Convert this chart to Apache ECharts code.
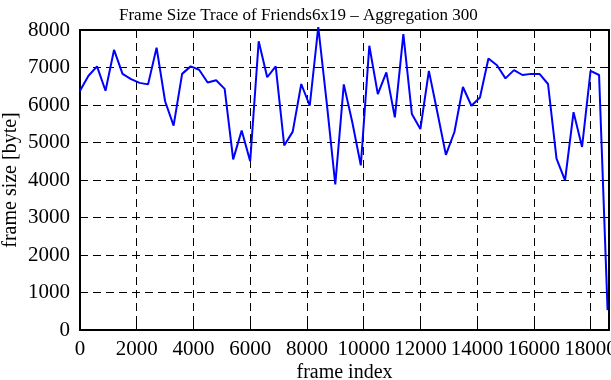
<!DOCTYPE html>
<html>
<head>
<meta charset="utf-8">
<script src="https://cdn.jsdelivr.net/npm/echarts@6/dist/echarts.min.js"></script>
<style>
    html, body { margin: 0; padding: 0; background: #fff; }
    #main { width: 611px; height: 380px; }
</style>
</head>
<body>
<div id="main"></div>
<script>
// frame index (aggregation of 300 frames)
var frameIdx = [0, 300, 600, 900, 1200, 1500, 1800, 2100, 2400, 2700,
    3000, 3300, 3600, 3900, 4200, 4500, 4800, 5100, 5400, 5700,
    6000, 6300, 6600, 6900, 7200, 7500, 7800, 8100, 8400, 8700,
    9000, 9300, 9600, 9900, 10200, 10500, 10800, 11100, 11400, 11700,
    12000, 12300, 12600, 12900, 13200, 13500, 13800, 14100, 14400, 14700,
    15000, 15300, 15600, 15900, 16200, 16500, 16800, 17100, 17400, 17700,
    18000, 18300, 18600];
// frame size in byte
var frameSize = [6380, 6780, 7030, 6380, 7470, 6830, 6690, 6590, 6550, 7530,
    6100, 5450, 6830, 7030, 6940, 6600, 6660, 6430, 4550, 5320,
    4500, 7700, 6740, 7030, 4920, 5290, 6560, 5980, 8080, 6050,
    3880, 6550, 5540, 4390, 7580, 6290, 6870, 5670, 7890, 5760,
    5360, 6910, 5800, 4670, 5280, 6480, 5980, 6200, 7240, 7060,
    6710, 6930, 6800, 6830, 6830, 6560, 4570, 3990, 5810, 4880,
    6910, 6800, 530];

var xTicks = { min: 0, max: 18650, interval: 2000 };
var yTicks = { min: 0, max: 8000, interval: 1000 };

var font = 'Liberation Serif';

var pts = [];
for (var i = 0; i < frameIdx.length; i++) {
    pts.push([frameIdx[i], frameSize[i]]);
}

function plain(v) { return String(v); }

var myChart = echarts.init(document.getElementById('main'));

var dashed = { show: true, lineStyle: { color: '#000', type: [8, 5], width: 1 } };

var option = {
    animation: false,
    backgroundColor: '#fff',
    title: {
        text: 'Frame Size Trace of Friends6x19 \u2013 Aggregation 300',
        left: 114,
        top: 2,
        textStyle: { fontFamily: font, fontSize: 17, fontWeight: 'normal', color: '#000' }
    },
    grid: { left: 80, right: 2, top: 30, bottom: 50, show: false, containLabel: false, outerBoundsMode: 'none' },
    xAxis: [{
        type: 'value',
        min: xTicks.min, max: xTicks.max, interval: xTicks.interval,
        name: 'frame index',
        nameLocation: 'middle',
        nameGap: 33,
        nameMoveOverlap: false,
        nameTextStyle: { fontFamily: font, fontSize: 20, color: '#000' },
        axisLine: { show: true, onZero: false, lineStyle: { color: '#000', width: 2 } },
        axisTick: { show: true, inside: true, length: 6, lineStyle: { color: '#000', width: 1 } },
        axisLabel: { fontFamily: font, fontSize: 21, color: '#000', margin: 9, showMaxLabel: false, formatter: plain },
        splitLine: dashed
    }, {
        type: 'value', position: 'top',
        min: xTicks.min, max: xTicks.max, interval: xTicks.interval,
        axisLine: { show: true, onZero: false, lineStyle: { color: '#000', width: 2 } },
        axisTick: { show: true, inside: true, length: 6, lineStyle: { color: '#000', width: 1 } },
        axisLabel: { show: false },
        splitLine: { show: false }
    }],
    yAxis: [{
        type: 'value',
        min: yTicks.min, max: yTicks.max, interval: yTicks.interval,
        name: 'frame size [byte]',
        nameLocation: 'middle',
        nameGap: 59,
        nameRotate: 90,
        nameMoveOverlap: false,
        nameTextStyle: { fontFamily: font, fontSize: 20, color: '#000' },
        axisLine: { show: true, onZero: false, lineStyle: { color: '#000', width: 2 } },
        axisTick: { show: true, inside: true, length: 6, lineStyle: { color: '#000', width: 1 } },
        axisLabel: { fontFamily: font, fontSize: 21, color: '#000', margin: 10, formatter: plain },
        splitLine: dashed
    }, {
        type: 'value', position: 'right',
        min: yTicks.min, max: yTicks.max, interval: yTicks.interval,
        axisLine: { show: true, onZero: false, lineStyle: { color: '#000', width: 2 } },
        axisTick: { show: true, inside: true, length: 6, lineStyle: { color: '#000', width: 1 } },
        axisLabel: { show: false },
        splitLine: { show: false }
    }],
    series: [{
        name: 'frame size',
        type: 'line',
        data: pts,
        showSymbol: false,
        clip: false,
        lineStyle: { color: '#0000ff', width: 2 },
        itemStyle: { color: '#0000ff' }
    }]
};

myChart.setOption(option);
</script>
</body>
</html>
